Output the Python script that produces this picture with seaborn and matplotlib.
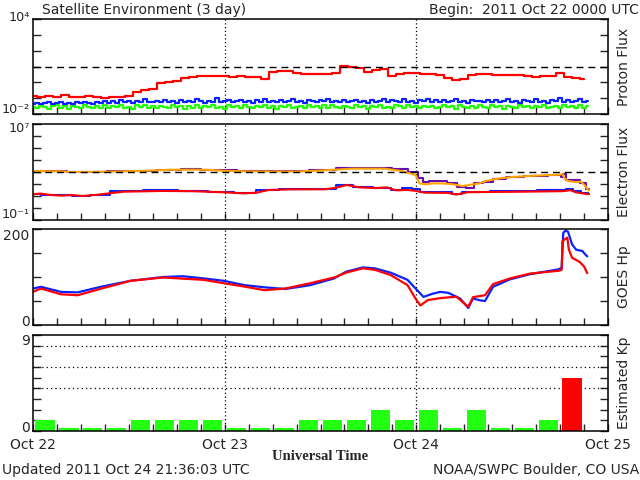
import numpy as np
import matplotlib
matplotlib.use("Agg")
import matplotlib.pyplot as plt
from matplotlib.ticker import MultipleLocator, FixedLocator
import seaborn as sns

# ---------------- data ----------------
day_labels = ["Oct 22", "Oct 23", "Oct 24", "Oct 25"]

# Proton flux (log10 pfu)
proton_red_log = [-0.85, -0.95, -0.88, -0.92, -0.82, -0.90, -0.95, -0.87, -0.90, -0.97, -0.93, -0.90, -0.85,
                  -0.60, -0.50, -0.45, -0.06, 0.05, 0.10, 0.25,
                  0.35, 0.40, 0.42, 0.40, 0.38, 0.36, 0.37, 0.34, 0.36, 0.19,
                  0.67, 0.74, 0.74, 0.57, 0.55, 0.53, 0.55, 0.53, 0.57, 1.05,
                  1.00, 0.88, 0.67, 0.78, 0.84, 0.40, 0.50, 0.57, 0.61, 0.52,
                  0.50, 0.46, 0.25, 0.15, 0.20, 0.46, 0.53, 0.53, 0.48, 0.46,
                  0.46, 0.44, 0.42, 0.32, 0.38, 0.40, 0.57, 0.32, 0.25, 0.21]
proton_blue_log = [-1.35, -1.28, -1.38, -1.30, -1.25, -1.36, -1.32, -1.22, -1.34, -1.29, -1.37, -1.27, -1.33, -1.24, -1.31, -1.38, -1.26, -1.30, -1.21, -1.33,
                   -1.18, -1.28, -1.12, -1.25, -1.20, -1.30, -1.15, -1.24, -1.05, -1.22, -1.27, -1.17, -1.23, -1.10, -1.26, -1.19, -1.29, -1.14, -1.22, -1.18,
                   -1.25, -1.08, -1.21, -1.28, -1.16, -1.23, -1.02, -1.26, -1.19, -1.12, -1.27, -1.20, -1.09, -1.24, -1.18, -1.29, -1.13, -1.22, -1.06, -1.25,
                   -1.17, -1.23, -1.11, -1.27, -1.19, -1.04, -1.24, -1.16, -1.28, -1.10, -1.21, -1.26, -1.14, -1.20, -1.07, -1.25, -1.18, -1.23, -1.12, -1.27,
                   -1.19, -1.09, -1.24, -1.15, -1.28, -1.11, -1.22, -1.17, -1.03, -1.25, -1.13, -1.20, -1.26, -1.08, -1.23, -1.16, -1.29, -1.12, -1.21, -1.05,
                   -1.24, -1.14, -1.27, -1.10, -1.22, -1.18, -1.06, -1.25, -1.15, -1.28, -1.11, -1.21, -1.17, -1.26, -1.09, -1.23, -1.13, -1.27, -1.19, -1.04,
                   -1.22, -1.15, -1.28, -1.12, -1.20, -1.25, -1.07, -1.23, -1.16, -1.29, -1.11, -1.21, -1.02, -1.26, -1.14, -1.24, -1.18, -1.08, -1.27, -1.20]
proton_green_log = [-1.55, -1.62, -1.48, -1.58, -1.66, -1.50, -1.44, -1.60, -1.52, -1.67, -1.47, -1.57, -1.63, -1.42, -1.54, -1.61, -1.49, -1.59, -1.45, -1.64,
                    -1.51, -1.58, -1.43, -1.62, -1.53, -1.68, -1.46, -1.56, -1.40, -1.60, -1.50, -1.65, -1.47, -1.55, -1.61, -1.44, -1.57, -1.52, -1.66, -1.48,
                    -1.59, -1.45, -1.63, -1.51, -1.56, -1.41, -1.60, -1.53, -1.67, -1.46, -1.58, -1.49, -1.62, -1.43, -1.55, -1.64, -1.50, -1.57, -1.44, -1.61,
                    -1.52, -1.66, -1.47, -1.58, -1.42, -1.60, -1.54, -1.49, -1.65, -1.45, -1.57, -1.51, -1.63, -1.46, -1.59, -1.40, -1.56, -1.62, -1.48, -1.55,
                    -1.61, -1.44, -1.57, -1.50, -1.66, -1.47, -1.53, -1.42, -1.59, -1.55, -1.64, -1.46, -1.52, -1.60, -1.43, -1.58, -1.49, -1.65, -1.51, -1.56,
                    -1.47, -1.62, -1.53, -1.41, -1.58, -1.50, -1.66, -1.45, -1.56, -1.61, -1.48, -1.59, -1.43, -1.54, -1.63, -1.46, -1.57, -1.52, -1.67, -1.49,
                    -1.55, -1.60, -1.44, -1.58, -1.51, -1.65, -1.47, -1.53, -1.42, -1.61, -1.56, -1.48, -1.63, -1.45, -1.57, -1.50, -1.64, -1.46, -1.59, -1.52]

# Electron flux (log10)
e_purple_t = [0, 4, 4.5, 9, 9.5, 14, 17, 20, 22, 24, 27, 33, 36, 40, 44, 46, 47.9, 48.4, 49.2, 50, 51.3, 52.5, 53.8, 54.6,
              55.9, 56.7, 58.4, 60, 63, 66, 66.3, 66.5, 67, 68, 69, 69.6]
e_purple_log = [3.12, 3.10, 3.02, 3.03, 3.08, 3.12, 3.20, 3.22, 3.20, 3.15, 3.08, 3.06, 3.15, 3.30, 3.32, 3.25, 3.03, 2.47, 2.20, 2.28,
                2.25, 2.05, 1.78, 1.64, 2.05, 2.20, 2.42, 2.55, 2.68, 2.75, 2.55, 2.80, 2.35, 2.30, 2.10, 1.60]
e_orange_t = [0, 4, 4.5, 9, 14, 17, 20, 22, 24, 27, 33, 36, 40, 44, 46, 47.9, 48.4, 49.2, 50, 51.3, 52.5, 53.8, 54.6,
              55.9, 56.7, 58.4, 60, 63, 66, 66.3, 66.6, 67, 68, 68.6, 69, 69.6]
e_orange_log = [3.08, 3.05, 3.00, 3.02, 3.10, 3.18, 3.20, 3.18, 3.10, 3.05, 3.04, 3.12, 3.28, 3.28, 3.10, 2.75, 2.05, 1.97, 2.05,
                2.05, 1.98, 1.83, 1.92, 2.05, 2.25, 2.47, 2.58, 2.70, 2.78, 2.85, 2.45, 2.25, 2.15, 2.20, 1.95, 1.45]
e_red_t = [0, 1, 2, 3.6, 5, 6.2, 8, 11.3, 16.3, 20, 23.9, 26.4, 28, 29.5, 32, 36.6, 38, 39.3, 40.8, 43, 44.3, 45.4, 46.9,
           48, 49, 52, 53, 54.5, 60, 66.3, 67.3, 68, 69.3, 69.6]
e_red_log = [1.15, 1.20, 1.10, 1.03, 1.08, 1.00, 1.10, 1.36, 1.42, 1.40, 1.31, 1.22, 1.28, 1.50, 1.55, 1.56, 1.70, 1.92, 1.72,
             1.66, 1.72, 1.48, 1.50, 1.42, 1.28, 1.26, 1.12, 1.32, 1.35, 1.40, 1.48, 1.30, 1.17, 1.15]
e_blue_t = [0, 2, 3.6, 6.2, 8, 11.3, 16.3, 20, 23.9, 26.4, 29.5, 32, 36.6, 39.3, 40.8, 44.3, 45.4, 46.9, 48, 49, 52, 53,
            54.5, 60, 66.3, 67.3, 68, 69.3, 69.6]
e_blue_log = [1.20, 1.12, 1.05, 1.03, 1.12, 1.40, 1.47, 1.43, 1.33, 1.24, 1.52, 1.58, 1.56, 1.90, 1.72, 1.70, 1.52, 1.65,
              1.55, 1.30, 1.30, 1.18, 1.35, 1.38, 1.50, 1.55, 1.45, 1.25, 1.20]

# GOES Hp (nT)
hp_blue_t = [0, 1, 3.5, 5.6, 8.6, 12.2, 16.3, 18.8, 21.4, 23.9, 26.5, 29, 31.6, 34.7, 37.7, 39.2, 41.3, 42.8, 44.8, 46.9,
             47.9, 48.9, 50, 51, 52, 53.5, 54.5, 55.1, 56.1, 56.6, 57.6, 59.7, 62.2, 65.8, 66.2, 66.4, 66.7, 67.0, 67.5,
             68, 68.8, 69.1, 69.4]
hp_blue = [76, 79.5, 69, 68, 80, 92, 100, 101.6, 97, 92, 83, 78.5, 75, 83, 97, 111, 120, 118, 109, 94,
           76, 58.5, 65, 69, 67, 55, 35.5, 55, 51, 50, 79.5, 95, 105.7, 116, 119, 192, 197, 194, 168,
           157, 154, 148, 143]
hp_red_t = [0, 1, 3.5, 5.6, 8.6, 12.2, 16.3, 21.4, 23.9, 26.5, 29, 31.6, 34.7, 37.7, 39.2, 41.3, 42.8, 44.8, 46.9, 47.9,
            48.5, 49.45, 51, 53, 54.5, 55.1, 56.6, 57.6, 59.7, 62.2, 65.8, 66.2, 66.3, 66.9, 67.1, 67.5, 68.4, 69, 69.4]
hp_red = [69, 76, 64, 62, 76, 92, 99, 94, 87, 80, 72.5, 76, 87, 99, 109, 118, 115, 104, 83, 55,
          40.7, 52, 56, 59, 38, 58, 62, 85, 97, 107, 113, 115, 175, 182, 157, 140, 132, 122, 108]

# Estimated Kp (3-hour bins)
kp_values = [1, 0.28, 0.28, 0.28, 1, 1, 1, 1,
             0.28, 0.28, 0.28, 1, 1, 1, 2, 1,
             2, 0.28, 2, 0.28, 0.28, 1, 5]
kp_grid = [4, 6, 8]

# ---------------- style ----------------
sns.set_style("white")
plt.rcParams["font.family"] = ["DejaVu Sans"]

RED = "#ff0000"
BLUE = "#0a22ff"
GREEN = "#22ff00"
PURPLE = "#6a0aaa"
ORANGE = "#ffa500"
KPGREEN = "#22ff11"

fig = plt.figure(figsize=(6.4, 4.8), dpi=100)
L, W = 33 / 640, 575 / 640
rects = [(19, 114), (124, 220), (229, 325), (335, 431)]
axes = []
for top, bot in rects:
    ax = fig.add_axes([L, 1 - bot / 480, W, (bot - top) / 480])
    axes.append(ax)

def style(ax, ylabels, last=False, lsize=10):
    ax.set_xlim(0, 72)
    ax.xaxis.set_major_locator(FixedLocator([0, 24, 48, 72]))
    ax.xaxis.set_minor_locator(MultipleLocator(3))
    ax.tick_params(axis="x", which="both", direction="in", bottom=True, top=False,
                   length=5, width=1, pad=5, labelsize=10)
    ax.tick_params(axis="y", which="both", direction="in", left=True, right=True,
                   length=6, width=1, labelleft=False)
    if last:
        ax.set_xticklabels(day_labels)
    else:
        ax.set_xticklabels([])
    for s in ax.spines.values():
        s.set_linewidth(1.1)
        s.set_color("black")
    for d in (24, 48):
        ax.axvline(d, color="black", lw=0.9, ls=(0, (1, 2)), zorder=1)
    ax.set_xlabel("")
    ax.set_ylabel("")
    ax.grid(False)
    # end labels of the y axis, nudged inward like the reference
    for val, txt, dy in ylabels:
        ax.annotate(txt, xy=(0, val), xycoords=("axes fraction", "data"),
                    xytext=(-2.5, dy), textcoords="offset points",
                    ha="right", va="center", fontsize=lsize, annotation_clip=False)

def side_label(ax, text):
    ax.text(1.028, 0.5, text, transform=ax.transAxes, rotation=90,
            ha="center", va="center", fontsize=10)

# Panel 1: proton flux
ax = axes[0]
t_half = np.arange(len(proton_blue_log)) * 0.5
t_hour = np.arange(len(proton_red_log)) * 1.0
sns.lineplot(x=t_half, y=10 ** np.array(proton_green_log), ax=ax, color=GREEN, lw=1.6,
             estimator=None, sort=False, drawstyle="steps-mid")
sns.lineplot(x=t_half, y=10 ** np.array(proton_blue_log), ax=ax, color=BLUE, lw=1.6,
             estimator=None, sort=False, drawstyle="steps-mid")
sns.lineplot(x=t_hour, y=10 ** np.array(proton_red_log), ax=ax, color=RED, lw=1.6,
             estimator=None, sort=False, drawstyle="steps-mid")
ax.set_yscale("log")
ax.set_ylim(1e-2, 1e4)
ax.axhline(10, color="black", lw=1, ls=(0, (5, 3.5)))
ax.yaxis.set_major_locator(FixedLocator([10.0 ** k for k in range(-2, 5)]))
ax.yaxis.set_minor_locator(FixedLocator([]))
style(ax, [(1e4, "10\u2074", 1), (1e-2, "10\u207b\u00b2", 3)], lsize=9.2)
side_label(ax, "Proton Flux")

# Panel 2: electron flux
ax = axes[1]
sns.lineplot(x=e_blue_t, y=10 ** np.array(e_blue_log), ax=ax, color=BLUE, lw=1.5,
             estimator=None, sort=False, drawstyle="steps-mid")
sns.lineplot(x=e_red_t, y=10 ** np.array(e_red_log), ax=ax, color=RED, lw=1.5,
             estimator=None, sort=False)
sns.lineplot(x=e_purple_t, y=10 ** np.array(e_purple_log), ax=ax, color=PURPLE, lw=1.5,
             estimator=None, sort=False, drawstyle="steps-mid")
sns.lineplot(x=e_orange_t, y=10 ** np.array(e_orange_log), ax=ax, color=ORANGE, lw=1.5,
             estimator=None, sort=False)
ax.set_yscale("log")
ax.set_ylim(1e-1, 1e7)
ax.axhline(1000, color="black", lw=1, ls=(0, (5, 3.5)))
ax.yaxis.set_major_locator(FixedLocator([10.0 ** k for k in range(-1, 8)]))
ax.yaxis.set_minor_locator(FixedLocator([]))
style(ax, [(1e7, "10\u2077", -3), (1e-1, "10\u207b\u00b9", 4)], lsize=9.2)
side_label(ax, "Electron Flux")

# Panel 3: GOES Hp
ax = axes[2]
sns.lineplot(x=hp_blue_t, y=hp_blue, ax=ax, color=BLUE, lw=1.6, estimator=None, sort=False)
sns.lineplot(x=hp_red_t, y=hp_red, ax=ax, color=RED, lw=1.6, estimator=None, sort=False)
ax.set_ylim(0, 200)
ax.yaxis.set_major_locator(FixedLocator([0, 50, 100, 150, 200]))
style(ax, [(200, "200", -5), (0, "0", 2)])
side_label(ax, "GOES Hp")

# Panel 4: Kp
ax = axes[3]
kp_t = [1.5 + 3 * i for i in range(len(kp_values))]
kp_cls = ["storm" if v >= 5 else "quiet" for v in kp_values]
sns.barplot(x=kp_t, y=kp_values, hue=kp_cls, palette={"quiet": KPGREEN, "storm": RED},
            native_scale=True, dodge=False, width=0.8, linewidth=0, saturation=1,
            legend=False, ax=ax, zorder=2)
for g in kp_grid:
    ax.axhline(g, color="black", lw=0.9, ls=(0, (1, 2.5)), zorder=1)
ax.set_ylim(0, 9)
ax.yaxis.set_major_locator(FixedLocator(list(range(10))))
style(ax, [(9, "9", -4), (0, "0", 2)], last=True)
side_label(ax, "Estimated Kp")

# Texts
fig.text(42 / 640, 1 - 10 / 480, "Satellite Environment (3 day)", ha="left", va="center", fontsize=10)
fig.text(0.999, 1 - 10 / 480, "Begin:  2011 Oct 22 0000 UTC", ha="right", va="center", fontsize=10)
fig.text(320 / 640, 1 - 456 / 480, "Universal Time", ha="center", va="center", fontsize=10.5,
         family="Liberation Serif", weight="bold")
fig.text(2 / 640, 1 - 470 / 480, "Updated 2011 Oct 24 21:36:03 UTC", ha="left", va="center", fontsize=10)
fig.text(0.999, 1 - 470 / 480, "NOAA/SWPC Boulder, CO USA", ha="right", va="center", fontsize=10)

fig.savefig("out.png", dpi=100, facecolor="white")
